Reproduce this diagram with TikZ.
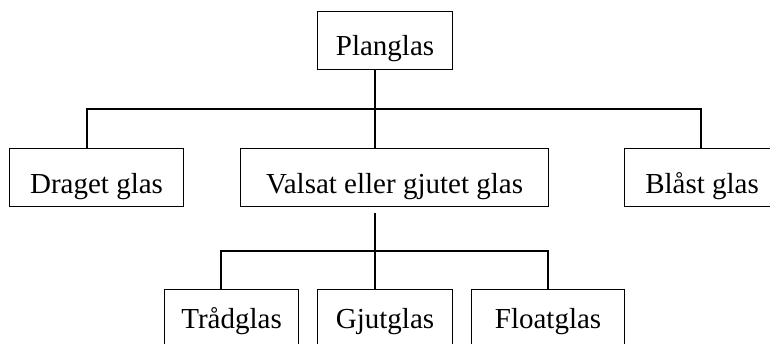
\documentclass[tikz,border=0pt]{standalone}
\usepackage{fontspec}
\setmainfont{Liberation Serif}
\begin{document}
\begin{tikzpicture}[x=1pt,y=-1pt,
  box/.style={draw, line width=1.1pt, rectangle, inner xsep=0pt, inner ysep=0pt,
    font=\fontsize{29}{34}\selectfont, anchor=north west},
  toprow/.style={text height=44pt, text depth=14pt},
  midrow/.style={text height=45pt, text depth=13pt},
  lowrow/.style={text height=39pt, text depth=19pt},
  link/.style={draw, line width=1.1pt}]
\useasboundingbox (0,0) rectangle (770,343);
\clip (0,0) rectangle (770,343);
\node[box, toprow, minimum width=135pt] (p) at (317,11) {Planglas};
\node[box, midrow, minimum width=174pt] (d) at (9,148) {Draget glas};
\node[box, midrow, minimum width=308pt] (v) at (240,148) {Valsat eller gjutet glas};
\node[box, midrow, minimum width=155pt] (b) at (624,148) {Blåst glas};
\node[box, lowrow, minimum width=134pt] (t) at (164,289) {Trådglas};
\node[box, lowrow, minimum width=135pt] (g) at (317,289) {Gjutglas};
\node[box, lowrow, minimum width=153pt] (f) at (471,289) {Floatglas};
\coordinate (j1) at (375,109);
\coordinate (dl) at (87,109);
\coordinate (br) at (701,109);
\coordinate (j2) at (375,251);
\coordinate (tl) at (221,251);
\coordinate (fr) at (548,251);
\draw[link] (p.south -| j1) -- (v.north -| j1);
\draw[link] (d.north -| dl) -- (dl) -- (br) -- (b.north -| br);
\draw[link, shorten <=6pt] (v.south -| j2) -- (j2);
\draw[link] (t.north -| tl) -- (tl) -- (fr) -- (f.north -| fr);
\draw[link] (j2) -- (g.north -| j2);
\end{tikzpicture}
\end{document}
